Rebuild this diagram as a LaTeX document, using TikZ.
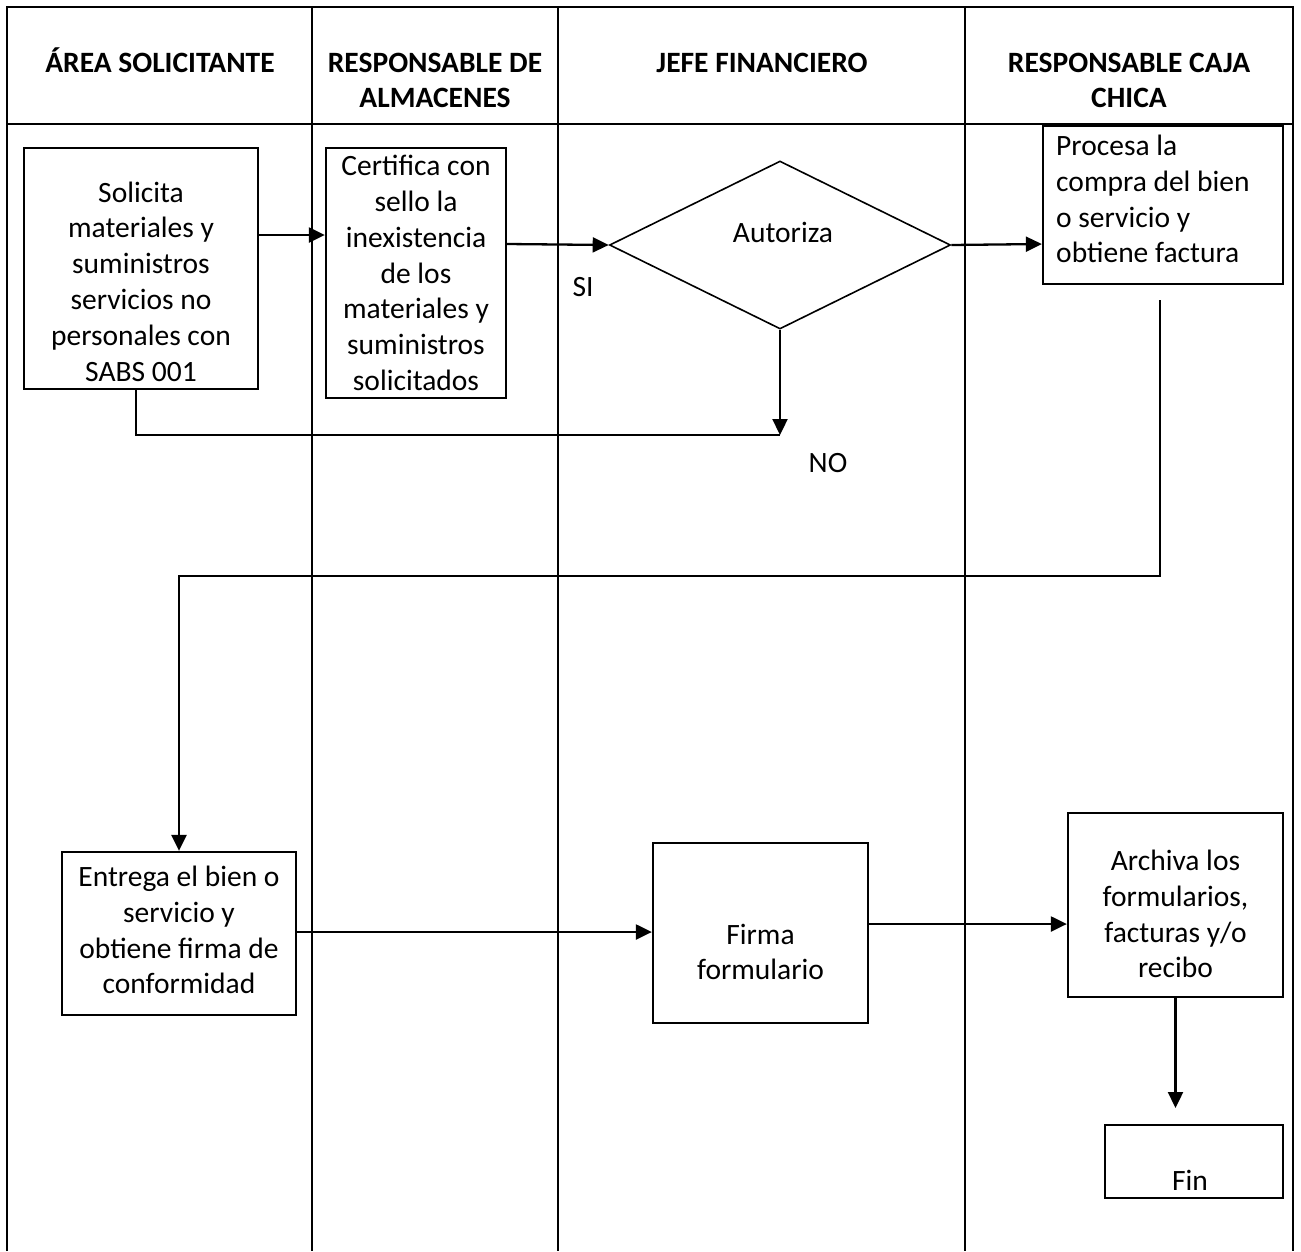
\documentclass[tikz,border=0pt]{standalone}
\usepackage{fontspec}
\setmainfont{Carlito}
\usetikzlibrary{arrows.meta,shapes.geometric}
\begin{document}
\begin{tikzpicture}[x=1pt,y=-1pt,
  lane/.style={line width=2.2pt},
  box/.style={draw, line width=2.3pt, rectangle, inner sep=0pt},
  txt/.style={inner sep=0pt, align=center, font=\fontsize{29.5}{35.8}\selectfont},
  hdr/.style={inner sep=0pt, anchor=base, font=\fontsize{29.5}{35.8}\selectfont\bfseries},
  flow/.style={line width=2.3pt, -{Triangle[length=16pt,width=15pt]}},
  plain/.style={line width=2.3pt}]
\useasboundingbox (0,0) rectangle (1301,1251);
% swimlane frame
\draw[lane] (7,1251) -- (7,7) -- (1293,7) -- (1293,1251);
\draw[lane] (7,124) -- (1293,124);
\draw[lane] (312,7) -- (312,1251);
\draw[lane] (558,7) -- (558,1251);
\draw[lane] (965,7) -- (965,1251);
% headers
\node[hdr] (h1) at (160,72) {ÁREA SOLICITANTE};
\node[hdr] (h2a) at (435,72) {RESPONSABLE DE};
\node[hdr] (h2b) at (435,107) {ALMACENES};
\node[hdr] (h3) at (762,72) {JEFE FINANCIERO};
\node[hdr] (h4a) at (1129,72) {RESPONSABLE CAJA};
\node[hdr] (h4b) at (1129,107) {CHICA};
% boxes
\node[box, minimum width=234, minimum height=241] (sol) at (141,268.5) {};
\node[txt] (solt) at (141,281.5) {Solicita\\materiales y\\suministros\\servicios no\\personales con\\SABS 001};
\node[box, minimum width=180, minimum height=250] (cert) at (416,273) {};
\node[txt] (certt) at (416,273) {Certifica con\\sello la\\inexistencia\\de los\\materiales y\\suministros\\solicitados};
\node[draw, line width=1.6pt, diamond, aspect=2.03, minimum width=341, minimum height=168, inner sep=0pt] (dia) at (780,245) {};
\node[txt] (diat) at (783,232) {Autoriza};
\node[txt] (si) at (583,287) {SI};
\node[txt] (no) at (828,463) {NO};
\node[box, minimum width=240, minimum height=158] (proc) at (1163,205) {};
\node[txt, align=left, anchor=west] (proct) at (1056,199) {Procesa la\\compra del bien\\o servicio y\\obtiene factura};
\node[box, minimum width=234, minimum height=163] (ent) at (179,933.5) {};
\node[txt] (entt) at (179,930) {Entrega el bien o\\servicio y\\obtiene firma de\\conformidad};
\node[box, minimum width=215, minimum height=180] (firma) at (760.5,933) {};
\node[txt] (firmat) at (760.5,952) {Firma\\formulario};
\node[box, minimum width=215, minimum height=184] (arch) at (1175.5,905) {};
\node[txt] (archt) at (1175.5,914) {Archiva los\\formularios,\\facturas y/o\\recibo};
\node[box, minimum width=178, minimum height=73] (fin) at (1194,1161.5) {};
\node[txt] (fint) at (1190,1180) {Fin};
% connectors
\coordinate (noend) at (780,435);
\coordinate (pstart) at (1160,300);
\coordinate (pturn) at (1160,576);
\coordinate (finend) at (1175.5,1108);
\draw[flow] (sol.east |- 0,235) -- (cert.west |- 0,235);
\draw[flow] (cert.east |- 0,244) -- (dia.west);
\draw[flow] (dia.east) -- (proc.west |- 0,244);
\draw[flow] (dia.south) -- (noend);
\draw[plain] ([xshift=-5pt]sol.south) |- (noend);
\draw[flow] (pstart) -- (pturn) -| (ent.north);
\draw[flow] (ent.east |- 0,932) -- (firma.west |- 0,932);
\draw[flow] (firma.east |- 0,924) -- (arch.west |- 0,924);
\draw[flow] (arch.south) -- (finend);
\end{tikzpicture}
\end{document}
